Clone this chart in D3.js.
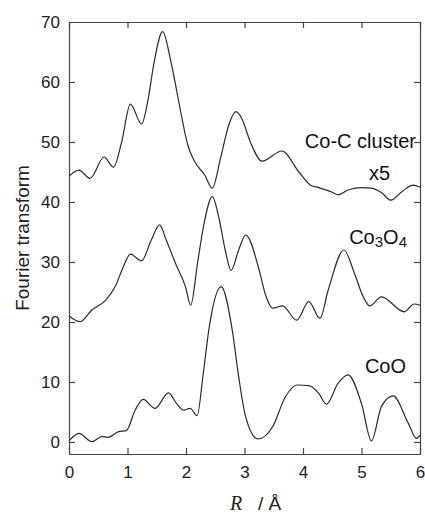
<!DOCTYPE html>
<html>
<head>
<meta charset="utf-8">
<script src="https://cdn.jsdelivr.net/npm/d3@7"></script>
<style>
body{margin:0;background:#fff;}
svg{display:block;}
</style>
</head>
<body>
<svg id="chart" width="425" height="516"></svg>
<script>
// Data (R in Å, Fourier transform magnitude)
const coCCluster = [[0,44.3],[0.17,45.3],[0.36,43.95],[0.6,47.5],[0.76,45.8],[0.9,50],[1.05,56.3],[1.24,53],[1.35,57],[1.45,63],[1.6,68.4],[1.75,63],[1.92,54.5],[2.03,49.5],[2.15,46.7],[2.32,44.5],[2.45,42.3],[2.59,47.3],[2.73,52.8],[2.855,55.05],[2.95,54],[3.1,50],[3.3,46.8],[3.64,48.5],[3.93,45],[4.13,42.8],[4.27,42.4],[4.48,41.7],[4.6,41.2],[4.77,42],[5.0,42.4],[5.17,42.3],[5.35,41.5],[5.5,40.3],[5.7,41.8],[5.88,42.8],[6,42.5]];
const co3o4 = [[0,21],[0.19,20.05],[0.39,22],[0.62,23.55],[0.79,25.9],[0.92,29],[1.05,31.3],[1.24,30.2],[1.4,33.5],[1.55,36.2],[1.66,33.7],[1.82,29.8],[1.99,25.9],[2.08,22.8],[2.2,30],[2.3,36],[2.45,40.9],[2.57,37],[2.67,32],[2.77,28.6],[2.9,32],[3.02,34.5],[3.25,28.7],[3.36,24.5],[3.48,22.3],[3.65,22.7],[3.89,20.3],[4.1,23.4],[4.29,20.6],[4.43,25.3],[4.7,32],[4.88,28.1],[5.03,24.2],[5.14,22.7],[5.34,24.2],[5.73,21.7],[5.9,23],[6,22.8]];
const coO = [[0,0.2],[0.17,1.45],[0.39,0.05],[0.56,0.9],[0.67,0.78],[0.84,1.7],[0.98,1.9],[1.13,5.3],[1.27,7.1],[1.47,5.6],[1.7,8.2],[1.84,6.4],[1.96,5.3],[2.07,5.6],[2.19,4.4],[2.29,11],[2.39,18.7],[2.6,25.9],[2.79,18.7],[2.9,10.9],[3.02,4.2],[3.23,0.5],[3.48,2.55],[3.7,7.55],[3.9,9.5],[4.1,9.4],[4.27,8.1],[4.4,6.3],[4.6,9.8],[4.77,11.2],[5.0,6.4],[5.17,0.2],[5.34,5.9],[5.54,7.7],[5.8,3.1],[5.94,0.6],[6,1.2]];
const xTicks = [0,1,2,3,4,5,6];
const yTicks = [0,10,20,30,40,50,60,70];
const xDomain = [0,6];
const yDomain = [-2,70];

const svg = d3.select("#chart");
const m = {left:69, right:5, top:22, bottom:62};
const W = 425, H = 516;
const x = d3.scaleLinear().domain(xDomain).range([m.left, W - m.right]);
const y = d3.scaleLinear().domain(yDomain).range([H - m.bottom, m.top]);
const font = "'Liberation Sans', Arial, sans-serif";
const frameColor = "#444";

// curves
const line = d3.line().x(d => x(d[0])).y(d => y(d[1])).curve(d3.curveMonotoneX);
[coCCluster, co3o4, coO].forEach(s => {
  svg.append("path").datum(s).attr("d", line)
    .attr("fill","none").attr("stroke","#2a2a2a").attr("stroke-width",1.2);
});

// axes (ticks inward on all sides)
const tl = 6;
const gB = svg.append("g").attr("transform",`translate(0,${y(yDomain[0])})`)
  .call(d3.axisBottom(x).tickValues(xTicks).tickSize(-tl).tickPadding(12).tickFormat(d3.format("d")));
const gT = svg.append("g").attr("transform",`translate(0,${y(yDomain[1])})`)
  .call(d3.axisTop(x).tickValues(xTicks).tickSize(-tl).tickFormat(""));
const gL = svg.append("g").attr("transform",`translate(${x(xDomain[0])},0)`)
  .call(d3.axisLeft(y).tickValues(yTicks).tickSize(-tl).tickPadding(9).tickFormat(d3.format("d")));
const gR = svg.append("g").attr("transform",`translate(${x(xDomain[1])},0)`)
  .call(d3.axisRight(y).tickValues(yTicks).tickSize(-tl).tickFormat(""));
[gB,gT,gL,gR].forEach(g => {
  g.select(".domain").attr("stroke",frameColor).attr("stroke-width",1.2);
  g.selectAll(".tick line").attr("stroke",frameColor).attr("stroke-width",1.2);
  g.selectAll("text").attr("font-family",font).attr("font-size",17).attr("fill","#222");
});
// hide end ticks that overlap frame
gB.selectAll(".tick").filter(d => d===0||d===6).select("line").remove();
gT.selectAll(".tick").filter(d => d===0||d===6).select("line").remove();
gL.selectAll(".tick").filter(d => d===70).select("line").remove();
gR.selectAll(".tick").filter(d => d===70).select("line").remove();

// axis titles
svg.append("text").attr("transform",`translate(29,${(y(yDomain[0])+y(yDomain[1]))/2}) rotate(-90)`)
  .attr("text-anchor","middle").attr("font-family",font).attr("font-size",19).attr("fill","#222")
  .text("Fourier transform");
svg.append("text").attr("x",236).attr("y",510).attr("text-anchor","middle")
  .attr("font-family","'Liberation Serif', 'Times New Roman', serif").attr("font-style","italic")
  .attr("font-size",20).attr("fill","#222").text("R");
svg.append("text").attr("x",258).attr("y",510).attr("text-anchor","start")
  .attr("font-family",font).attr("font-size",19).attr("fill","#222").text("/ Å");

// series labels
const lab = (tx, ty, anchor) => svg.append("text").attr("x",tx).attr("y",ty).attr("text-anchor",anchor)
  .attr("font-family",font).attr("font-size",20).attr("fill","#111");
lab(416,148,"end").text("Co-C cluster");
lab(390,180,"end").text("x5");
const c3 = lab(407,244,"end");
c3.append("tspan").text("Co");
c3.append("tspan").attr("font-size",15).attr("dy",3).text("3");
c3.append("tspan").attr("dy",-3).text("O");
c3.append("tspan").attr("font-size",15).attr("dy",3).text("4");
lab(406,373,"end").text("CoO");
</script>
</body>
</html>
